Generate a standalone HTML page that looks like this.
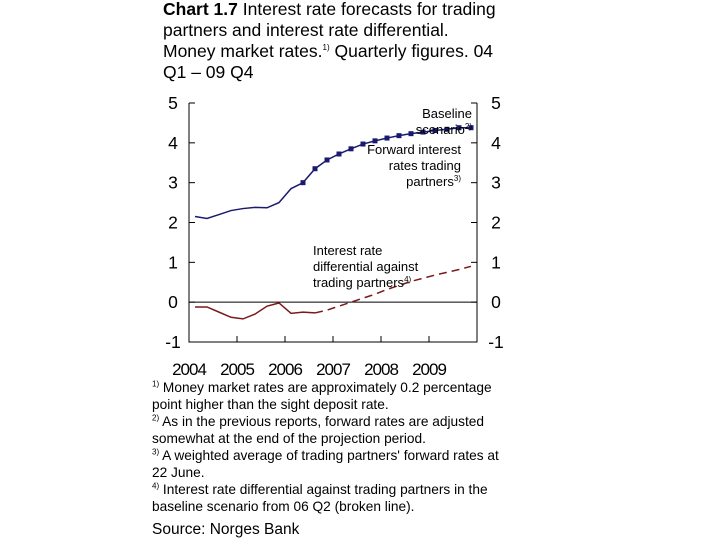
<!DOCTYPE html>
<html><head><meta charset="utf-8"><style>
body{margin:0;width:720px;height:540px;background:#fff;font-family:"Liberation Sans",Arial,sans-serif;overflow:hidden;position:relative}
#title{position:absolute;left:163px;top:-1px;white-space:nowrap;font-size:17.5px;line-height:21px;color:#000}
#notes{position:absolute;left:152px;top:379px;white-space:nowrap;font-size:13.7px;line-height:17px;color:#000}
sup{font-size:8px;line-height:0}
#src{position:absolute;left:152px;top:521px;font-size:15.5px}
</style></head><body>
<div id="title"><b>Chart 1.7</b> Interest rate forecasts for trading<br>partners and interest rate differential.<br>Money market rates.<sup>1)</sup> Quarterly figures. 04<br>Q1 – 09 Q4</div>
<svg id="chart" width="720" height="380" style="position:absolute;left:0;top:0"></svg>
<div id="notes"><sup>1)</sup> Money market rates are approximately 0.2 percentage<br>point higher than the sight deposit rate.<br><sup>2)</sup> As in the previous reports, forward rates are adjusted<br>somewhat at the end of the projection period.<br><sup>3)</sup> A weighted average of trading partners' forward rates at<br>22 June.<br><sup>4)</sup> Interest rate differential against trading partners in the<br>baseline scenario from 06 Q2 (broken line).</div>
<div id="src">Source: Norges Bank</div>
<script>
const years=["2004","2005","2006","2007","2008","2009"];
const yTicks=[5,4,3,2,1,0,-1];
const baseline=[2.15,2.1,2.2,2.3,2.35,2.38,2.37,2.5,2.85,3.0,3.35,3.57,3.72,3.85,3.97,4.05,4.12,4.18,4.23,4.27,4.31,4.34,4.38,4.38];
const differential=[-0.12,-0.12,-0.25,-0.38,-0.42,-0.3,-0.1,-0.02,-0.28,-0.25,-0.27,-0.2,-0.1,0.0,0.1,0.2,0.32,0.42,0.52,0.6,0.68,0.75,0.82,0.9];
const markerStart=9, dashStart=10;
const L=189,R=477,T=103,B=342;
const x=i=>L+6+12*i;
const y=v=>T+(5-v)*(B-T)/6;
const svg=document.getElementById('chart');
const NS='http://www.w3.org/2000/svg';
function mk(t,a){const e=document.createElementNS(NS,t);for(const k in a)e.setAttribute(k,a[k]);svg.appendChild(e);return e;}
let e;
e=mk('path',{d:`M${L},${T} V${B} H${R} V${T}`,stroke:'#000',fill:'none','stroke-width':1});

e=mk('line',{x1:L,x2:R,y1:y(0),y2:y(0),stroke:'#000','stroke-width':1});

yTicks.forEach(v=>{
 mk('line',{x1:L,x2:L+6,y1:y(v),y2:y(v),stroke:'#000'});
 mk('line',{x1:R-6,x2:R,y1:y(v),y2:y(v),stroke:'#000'});
 e=mk('text',{x:173,y:y(v)+6,'text-anchor':'middle','font-size':17.5});e.textContent=v;
 
 e=mk('text',{x:496,y:y(v)+6,'text-anchor':'middle','font-size':17.5});e.textContent=v;
 
});
years.forEach((yr,i)=>{
 const xx=L+48*i;
 if(i>0)mk('line',{x1:xx,x2:xx,y1:B,y2:B-6,stroke:'#000'});
 e=mk('text',{x:xx,y:375,'text-anchor':'middle','font-size':17,'letter-spacing':'-1'});e.textContent=yr;
 
});
const pts=(arr,a,b)=>arr.slice(a,b).map((v,j)=>`${x(a+j)},${y(v)}`).join(' ');
e=mk('polyline',{points:pts(baseline,0,24),fill:'none',stroke:'#1a1a6e','stroke-width':1.5});

baseline.forEach((v,i)=>{if(i>=markerStart){
 e=mk('rect',{x:x(i)-2.5,y:y(v)-2.5,width:5,height:5,fill:'#1a1a6e'});
 }});
e=mk('polyline',{points:pts(differential,0,dashStart+1),fill:'none',stroke:'#7a1a1a','stroke-width':1.5});

e=mk('polyline',{points:pts(differential,dashStart,24),fill:'none',stroke:'#7a1a1a','stroke-width':1.5,'stroke-dasharray':'8,5'});

function lbl(lines,xx,yy,anchor,name){const t=mk('text',{x:xx,y:yy,'text-anchor':anchor,'font-size':13});
 lines.forEach((l,i)=>{const s=document.createElementNS(NS,'tspan');s.setAttribute('x',xx);s.setAttribute('dy',i?16:0);s.innerHTML=l;t.appendChild(s);});
 }
lbl(['Baseline','scenario<tspan font-size="8" dy="-5">2)</tspan>'],472,118,'end','baseline-label');
lbl(['Forward interest','rates trading','partners<tspan font-size="8" dy="-5">3)</tspan>'],461,154,'end','forward-label');
lbl(['Interest rate','differential against','trading partners<tspan font-size="8" dy="-5">4)</tspan>'],313,255,'start','differential-label');
</script>
</body></html>
